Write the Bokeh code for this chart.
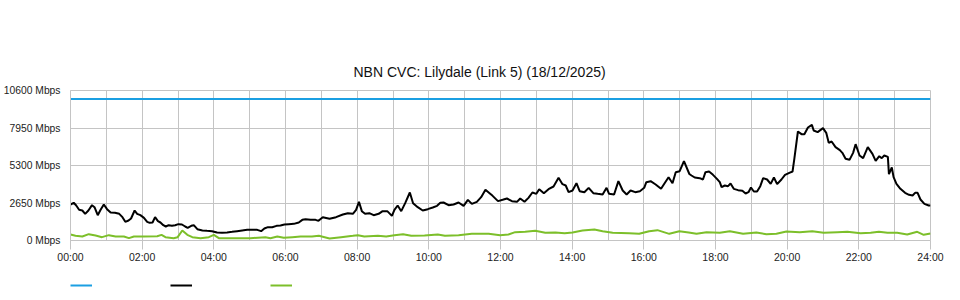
from bokeh.plotting import figure
from bokeh.layouts import column
from bokeh.models import Range1d, FixedTicker, Title, Legend, LegendItem
from bokeh.core.properties import value
from bokeh.embed import file_html
from bokeh.resources import INLINE

# ---- data (hours since midnight, Mbps) ----
black_t = [0.00, 0.09, 0.16, 0.24, 0.33, 0.41, 0.50, 0.60, 0.67, 0.76, 0.84, 0.93,
           1.02, 1.12, 1.24, 1.36, 1.45, 1.53, 1.62, 1.69, 1.79, 1.86, 1.95,
           2.05, 2.14, 2.21, 2.29, 2.36, 2.44, 2.51, 2.59, 2.66, 2.74, 2.83, 2.92,
           3.01, 3.11, 3.20, 3.27, 3.37, 3.44, 3.54, 3.68, 3.81, 3.95,
           4.09, 4.23, 4.37, 4.51, 4.65, 4.79, 4.93, 5.07, 5.21, 5.32, 5.41, 5.51,
           5.63, 5.75, 5.86, 5.97, 6.09, 6.23, 6.37, 6.47, 6.56, 6.70, 6.84, 6.92,
           7.04, 7.23, 7.41, 7.60, 7.74, 7.88, 7.97, 8.05, 8.13, 8.22, 8.34, 8.46,
           8.60, 8.71, 8.84, 8.97, 9.04, 9.13, 9.23, 9.34, 9.47, 9.56, 9.69, 9.83,
           9.97, 10.11, 10.23, 10.32, 10.41, 10.55, 10.69, 10.83, 10.97, 11.09,
           11.20, 11.34, 11.46, 11.58, 11.67, 11.78, 11.93, 12.06, 12.18, 12.32,
           12.46, 12.55, 12.67, 12.78, 12.89, 13.00, 13.08, 13.21, 13.34, 13.48,
           13.62, 13.73, 13.82, 13.90, 14.01, 14.12, 14.21, 14.34, 14.46, 14.59,
           14.71, 14.85, 14.96, 15.03, 15.17, 15.29, 15.41, 15.52, 15.63, 15.76,
           15.89, 16.01, 16.07, 16.19, 16.33, 16.48, 16.58, 16.69, 16.80, 16.89,
           17.00, 17.12, 17.27, 17.33, 17.42, 17.56, 17.65, 17.72, 17.82, 17.93,
           18.04, 18.12, 18.17, 18.26, 18.35, 18.42, 18.51, 18.63, 18.75, 18.84,
           18.92, 18.99, 19.07, 19.16, 19.25, 19.33, 19.44, 19.54, 19.63, 19.72,
           19.84, 19.94, 20.06, 20.15, 20.20, 20.30, 20.40, 20.48, 20.58, 20.69,
           20.74, 20.85, 21.00, 21.09, 21.16, 21.24, 21.35, 21.47, 21.54, 21.63,
           21.74, 21.84, 21.91, 22.02, 22.12, 22.25, 22.38, 22.47, 22.57, 22.64,
           22.71, 22.81, 22.84, 22.92, 22.97, 23.05, 23.16, 23.29, 23.40, 23.50,
           23.57, 23.64, 23.72, 23.83, 23.95, 24.00]
black_v = [2544, 2664, 2473, 2168, 2120, 1885, 2120, 2497, 2355, 1790, 2168, 2544,
           2214, 1979, 1955, 1885, 1649, 1319, 1413, 1555, 2120, 1885, 1790,
           1602, 1319, 1249, 1272, 1649, 1366, 1272, 1083, 989, 1083, 1036, 1083,
           1154, 1130, 989, 894, 1036, 1083, 801, 707, 683, 660,
           565, 542, 565, 612, 660, 707, 754, 754, 754, 660, 848, 942,
           942, 1036, 1060, 1130, 1154, 1177, 1272, 1460, 1508, 1460, 1460, 1390,
           1649, 1531, 1649, 1837, 1932, 1885, 2168, 2733, 2073, 1885, 1932, 1790,
           1885, 2073, 2073, 1743, 2168, 2473, 2073, 2638, 3392, 2638, 2355, 2120,
           2214, 2332, 2450, 2662, 2685, 2497, 2544, 2685, 2450, 2874,
           2591, 2733, 3062, 3581, 3392, 3156, 2780, 2874, 2968, 2780,
           2733, 2968, 2733, 3015, 3392, 3297, 3627, 3345, 3627, 3816,
           4428, 3980, 3887, 3415, 3533, 4051, 3486, 3415, 3722, 3345,
           3297, 3250, 3722, 3297, 3250, 4192, 3533, 3250, 3533, 3415,
           3486, 3722, 4122, 4192, 3957, 3651, 4051, 4475, 4051, 4829,
           4899, 5607, 4700, 4593, 4452, 4405, 4311, 4829, 4876, 4640,
           4358, 4122, 3769, 3887, 3840, 4028, 3651, 3557, 3510, 3321,
           3415, 3745, 3463, 3463, 3840, 4405, 4311, 4004, 4452, 3981,
           4311, 4640, 4782, 4876, 5771, 7703, 7514, 7514, 7985, 8174,
           7773, 7655, 7938, 7608, 6904, 6996, 6595, 6383, 6194, 5771,
           5700, 6194, 6808, 6007, 5818, 6595, 6124, 5630, 5960, 5818,
           6007, 5913, 4688, 5160, 4475, 4004, 3651, 3368, 3227, 3180,
           3368, 3368, 2898, 2591, 2473, 2473]

green_t = [0.00, 0.14, 0.33, 0.51, 0.70, 0.88, 1.07, 1.26, 1.49, 1.63, 1.77, 2.05,
           2.42, 2.54, 2.65, 2.88, 2.99, 3.12, 3.26, 3.40, 3.63, 3.86, 4.00, 4.14,
           4.56, 5.02, 5.44, 5.58, 5.77, 5.95, 6.19, 6.42, 6.74, 6.93, 7.23, 7.55,
           7.88, 8.02, 8.20, 8.58, 8.81, 9.04, 9.28, 9.51, 9.88, 10.25, 10.45,
           10.83, 11.20, 11.67, 11.99, 12.22, 12.41, 12.69, 12.97, 13.25, 13.53,
           13.79, 14.01, 14.29, 14.62, 14.85, 15.13, 15.59, 15.87, 16.15, 16.38,
           16.71, 16.99, 17.25, 17.47, 17.75, 18.12, 18.40, 18.77, 19.14, 19.42,
           19.70, 19.98, 20.35, 20.70, 21.02, 21.40, 21.68, 22.05, 22.33, 22.56,
           22.80, 23.07, 23.35, 23.63, 23.81, 24.00]
green_v = [424, 330, 283, 447, 353, 236, 377, 283, 283, 165, 283, 283,
           306, 400, 236, 165, 236, 707, 400, 236, 165, 236, 400, 165,
           165, 165, 236, 165, 283, 188, 236, 283, 283, 330, 141, 236,
           330, 377, 283, 330, 283, 377, 447, 330, 353, 424, 330,
           377, 471, 471, 377, 424, 589, 612, 683, 542, 565,
           518, 565, 707, 777, 660, 542, 518, 471, 660, 730,
           471, 660, 565, 471, 589, 542, 660, 471, 565, 448,
           471, 636, 589, 660, 542, 589, 612, 518, 542, 612,
           542, 542, 424, 612, 400, 495]

cap_t = [0, 24]
cap_v = [10000, 10000]

y_ticks = [0, 2650, 5300, 7950, 10600]
y_labels = ["0 Mbps", "2650 Mbps", "5300 Mbps", "7950 Mbps", "10600 Mbps"]
x_ticks = [0, 2, 4, 6, 8, 10, 12, 14, 16, 18, 20, 22, 24]
x_labels = ["00:00", "02:00", "04:00", "06:00", "08:00", "10:00", "12:00",
            "14:00", "16:00", "18:00", "20:00", "22:00", "24:00"]
x_minor = [1, 3, 5, 7, 9, 11, 13, 15, 17, 19, 21, 23]

series_colors = ["#1b9fe2", "#000000", "#7cbf2a"]
series_data = [(cap_t, cap_v), (black_t, black_v), (green_t, green_v)]

title_text = "NBN CVC: Lilydale (Link 5) (18/12/2025)"

FONT = "Liberation Sans"
GRID = "#c4c4c4"

p = figure(width=960, height=270,
           x_range=Range1d(0, 24), y_range=Range1d(0, 10600),
           output_backend="svg", toolbar_location=None,
           min_border_left=70, min_border_right=30, min_border_top=90,
           min_border_bottom=30, background_fill_color="white",
           border_fill_color="white", outline_line_color=GRID)

t = Title(text=title_text, align="left", text_font=FONT, text_font_size="14px",
          text_font_style="normal", text_color="#111111", offset=283, standoff=21)
p.add_layout(t, "above")

p.xaxis.ticker = FixedTicker(ticks=x_ticks, minor_ticks=x_minor)
p.xaxis.major_label_overrides = dict(zip(x_ticks, x_labels))
p.yaxis.ticker = FixedTicker(ticks=y_ticks)
p.yaxis.major_label_overrides = dict(zip(y_ticks, y_labels))

for ax in (p.xaxis, p.yaxis):
    ax.axis_line_color = GRID
    ax.major_tick_line_color = GRID
    ax.minor_tick_line_color = None
    ax.major_label_text_font = FONT
    ax.major_label_text_color = "#222222"
p.xaxis.major_tick_out = 9
p.xaxis.major_tick_in = 0
p.xaxis.major_label_standoff = 1
p.xaxis.major_label_text_font_size = "10.5px"
p.yaxis.major_tick_out = 0
p.yaxis.major_tick_in = 0
p.yaxis.major_label_standoff = 10
p.yaxis.major_label_text_font_size = "10.3px"

p.xgrid.grid_line_color = GRID
p.xgrid.minor_grid_line_color = GRID
p.ygrid.grid_line_color = GRID

for (xs, ys), c in zip(series_data, series_colors):
    p.line(xs, ys, line_color=c, line_width=2)

# legend strip (keys only, no labels) below the chart; its lines carry the
# same series but the strip's y range is set outside the data, so only keys show
lg = figure(width=960, height=30, x_range=Range1d(0, 24), y_range=Range1d(-2, -1),
            output_backend="svg", toolbar_location=None,
            min_border_left=70, min_border_right=30, min_border_top=0,
            min_border_bottom=0, x_axis_location=None, y_axis_location=None,
            outline_line_color=None, background_fill_color="white",
            border_fill_color="white")
lg.xgrid.visible = False
lg.ygrid.visible = False
keys = [lg.line(xs, ys, line_color=c, line_width=2)
        for (xs, ys), c in zip(series_data, series_colors)]

legend = Legend(items=[LegendItem(label=value(""), renderers=[k]) for k in keys],
                orientation="horizontal", location="center_left",
                glyph_width=22, glyph_height=20, label_standoff=0, label_width=78,
                spacing=0, padding=0, margin=0, border_line_color=None,
                background_fill_alpha=0)
lg.add_layout(legend, "center")

open("out.html", "w").write(file_html(column(p, lg, spacing=0), INLINE))
